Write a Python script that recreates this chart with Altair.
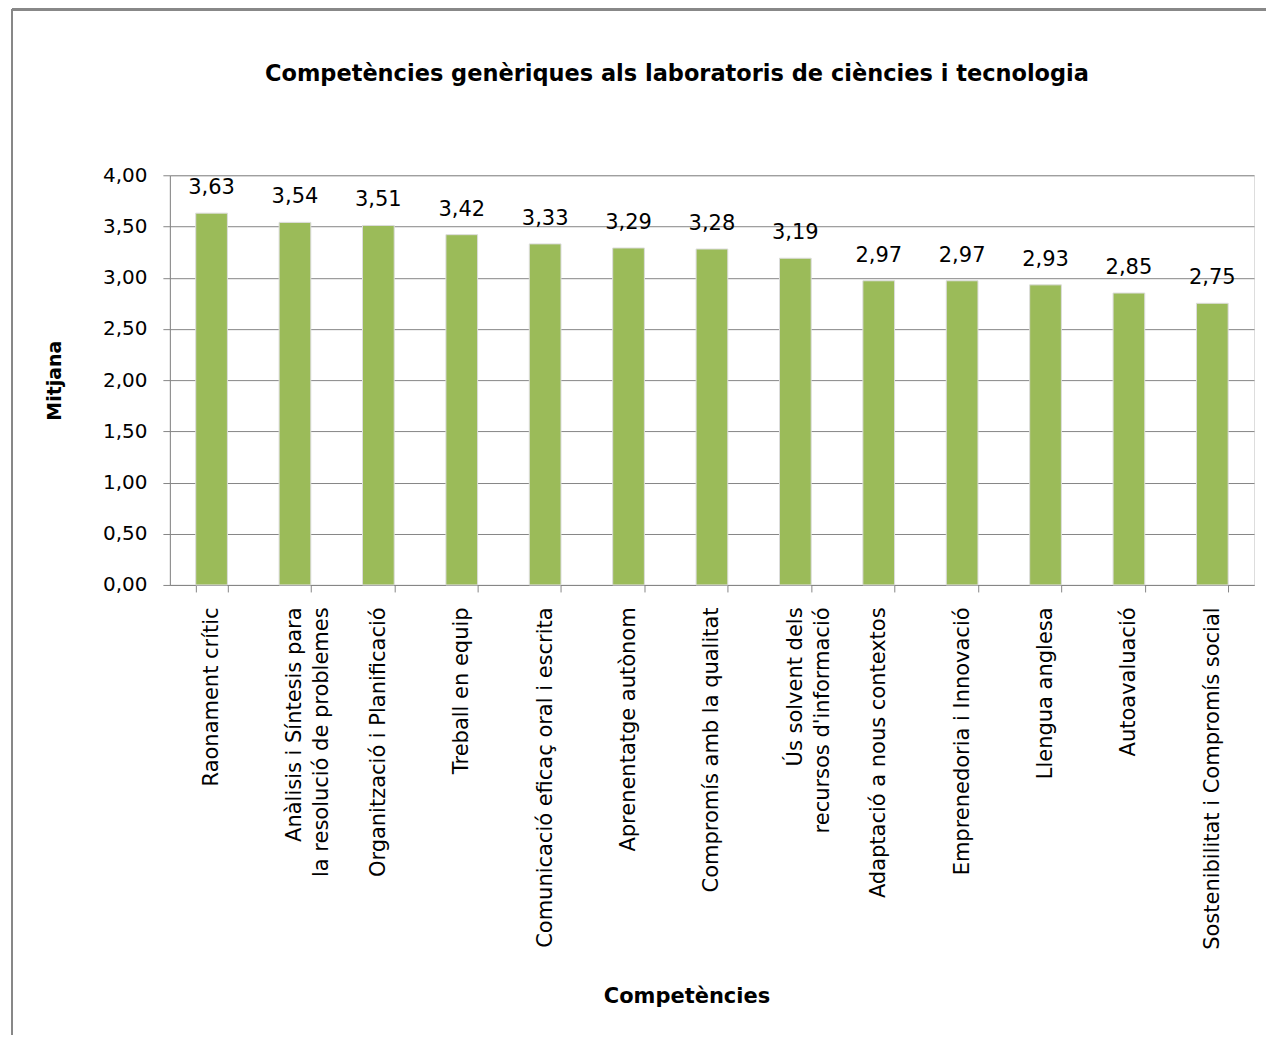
import altair as alt
import pandas as pd

categories = [
    "Raonament crític",
    "Anàlisis i Síntesis para|la resolució de problemes",
    "Organització i Planificació",
    "Treball en equip",
    "Comunicació eficaç oral i escrita",
    "Aprenentatge autònom",
    "Compromís amb la qualitat",
    "Ús solvent dels|recursos d'informació",
    "Adaptació a nous contextos",
    "Emprenedoria i Innovació",
    "Llengua anglesa",
    "Autoavaluació",
    "Sostenibilitat i Compromís social",
]
values = [3.63, 3.54, 3.51, 3.42, 3.33, 3.29, 3.28, 3.19, 2.97, 2.97, 2.93, 2.85, 2.75]
y_ticks = [0, 0.5, 1, 1.5, 2, 2.5, 3, 3.5, 4]

df = pd.DataFrame({"cat": categories, "val": values})

FONT = "DejaVu Sans"
GRAY = "#868686"
W, H = 1085, 410

x_enc = alt.X(
    "cat:N",
    sort=None,
    scale=alt.Scale(paddingInner=0.62, paddingOuter=0.31),
    axis=alt.Axis(
        title="Competències",
        titleFont=FONT, titleFontSize=21, titleFontWeight="bold", titleColor="black",
        titleX=517, titleY=412, titleBaseline="middle", titleAlign="center", titleAngle=0,
        labelAngle=-90, labelAlign="right", labelBaseline="middle",
        labelFont=FONT, labelFontSize=21, labelColor="black",
        labelPadding=15, labelLimit=500, labelLineHeight=27,
        labelExpr="split(datum.label, '|')",
        tickBand="extent", tickSize=7, tickColor=GRAY, domainColor=GRAY,
        grid=False,
    ),
)

y_enc = alt.Y(
    "val:Q",
    scale=alt.Scale(domain=[0, 4], nice=False),
    axis=alt.Axis(
        title="Mitjana",
        titleFont=FONT, titleFontSize=19, titleFontWeight="bold", titleColor="black",
        titleX=-115, titleY=205, titleBaseline="middle", titleAlign="center",
        values=y_ticks,
        labelExpr="replace(format(datum.value, '.2f'), '.', ',')",
        labelFont=FONT, labelFontSize=20, labelColor="black", labelPadding=16,
        tickSize=7, tickColor=GRAY, domainColor=GRAY,
        grid=True, gridColor=GRAY, gridWidth=1,
    ),
)

bars = alt.Chart(df).mark_bar(color="#9BBB59", stroke="#dcdcdc", strokeWidth=1).encode(
    x=x_enc, y=y_enc
)

labels = alt.Chart(df).transform_calculate(
    lab="replace(format(datum.val, '.2f'), '.', ',')"
).mark_text(
    font=FONT, fontSize=21, color="black", baseline="middle", dy=-25
).encode(x=alt.X("cat:N", sort=None), y=alt.Y("val:Q"), text="lab:N")

border_left = alt.Chart(df).mark_rule(color="#888888", strokeWidth=2).encode(
    x=alt.value(-158), y=alt.value(-166), y2=alt.value(880)
)
border_top = alt.Chart(df).mark_rule(color="#888888", strokeWidth=2).encode(
    x=alt.value(-158), x2=alt.value(1110), y=alt.value(-166)
)

chart = alt.layer(bars, labels, border_left, border_top).properties(
    width=W,
    height=H,
    autosize=alt.AutoSizeParams(type="none"),
    padding={"left": 162, "top": 167, "right": 12, "bottom": 450},
    title=alt.TitleParams(
        "Competències genèriques als laboratoris de ciències i tecnologia",
        font=FONT, fontSize=22.5, fontWeight="bold", color="black",
        anchor="middle", frame="group", dx=-35, offset=-77,
    ),
).configure_view(stroke=None).configure(background="white")

chart.save("out.html", embed_options={"renderer": "svg", "actions": False})
